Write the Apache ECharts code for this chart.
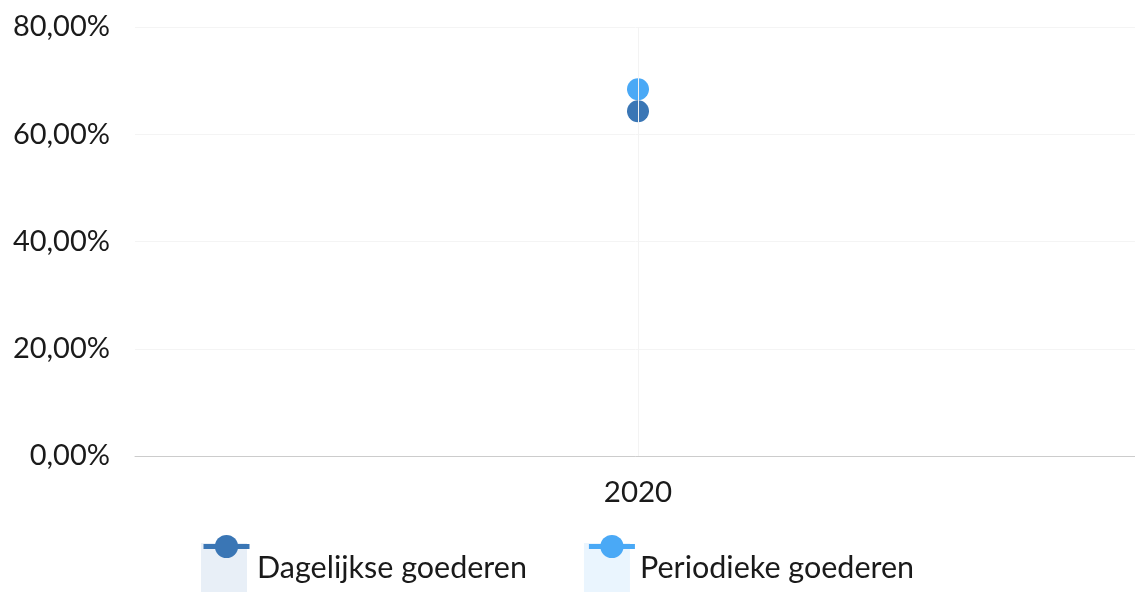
<!DOCTYPE html>
<html>
<head>
<meta charset="utf-8">
<script src="https://cdn.jsdelivr.net/npm/echarts@6/dist/echarts.min.js"></script>
<style>
  html, body { margin: 0; padding: 0; background: #fff; }
  #chart { width: 1135px; height: 592px; }
</style>
</head>
<body>
<div id="chart"></div>
<script>
  // data
  var years = ['2020'];
  var dagelijkse = [64.3];
  var periodieke = [68.4];
  var seriesNames = ['Dagelijkse goederen', 'Periodieke goederen'];
  var darkBlue = '#3a76b5';
  var lightBlue = '#4aa9f6';

  var chart = echarts.init(document.getElementById('chart'));
  var font = 'Lato, "Noto Sans", sans-serif';

  chart.setOption({
    animation: false,
    grid: { left: 135, width: 1006, top: 27, bottom: 136, containLabel: false, outerBoundsMode: 'none' },
    xAxis: {
      type: 'category',
      data: years,
      axisLine: { lineStyle: { color: '#cccccc', width: 1 } },
      axisTick: { show: false },
      axisLabel: { margin: 21, fontSize: 29.5, color: '#1a1a1a', fontFamily: font },
      splitLine: { show: false }
    },
    yAxis: {
      type: 'value',
      min: 0,
      max: 80,
      interval: 20,
      axisLine: { show: false },
      axisTick: { show: false },
      axisLabel: {
        margin: 25, fontSize: 29, color: '#1a1a1a', fontFamily: font,
        formatter: function (v) { return v.toFixed(2).replace('.', ',') + '%'; }
      },
      splitLine: { lineStyle: { color: '#f4f4f4', width: 1 } }
    },
    // rectangles under the legend icons
    legend: [{
      left: 196,
      top: 538,
      icon: 'rect',
      itemWidth: 46,
      itemHeight: 50,
      itemGap: 57,
      textStyle: { fontSize: 30.5, color: '#1a1a1a', fontFamily: font, padding: [0, 0, 0, 5] },
      data: [
        { name: seriesNames[0], itemStyle: { color: '#e8eff7' } },
        { name: seriesNames[1], itemStyle: { color: '#eaf5fe' } }
      ]
    }, {
      left: 196,
      top: 526,
      itemWidth: 46,
      itemHeight: 29,
      itemGap: 57,
      lineStyle: { width: 5 },
      textStyle: { fontSize: 30.5, color: 'rgba(0,0,0,0)', fontFamily: font, padding: [0, 0, 0, 5] },
      data: seriesNames
    }],
    series: [{
      name: seriesNames[1],
      type: 'line',
      data: periodieke,
      symbol: 'circle',
      symbolSize: 22,
      itemStyle: { color: lightBlue },
      lineStyle: { color: lightBlue, width: 4 },
      markLine: {
        silent: true,
        symbol: 'none',
        label: { show: false },
        lineStyle: { color: '#f3f3f3', width: 1, type: 'solid' },
        data: [{ xAxis: '2020' }]
      }
    }, {
      name: seriesNames[0],
      type: 'line',
      data: dagelijkse,
      symbol: 'circle',
      symbolSize: 22,
      itemStyle: { color: darkBlue },
      lineStyle: { color: darkBlue, width: 4 }
    }]
  });
</script>
</body>
</html>
